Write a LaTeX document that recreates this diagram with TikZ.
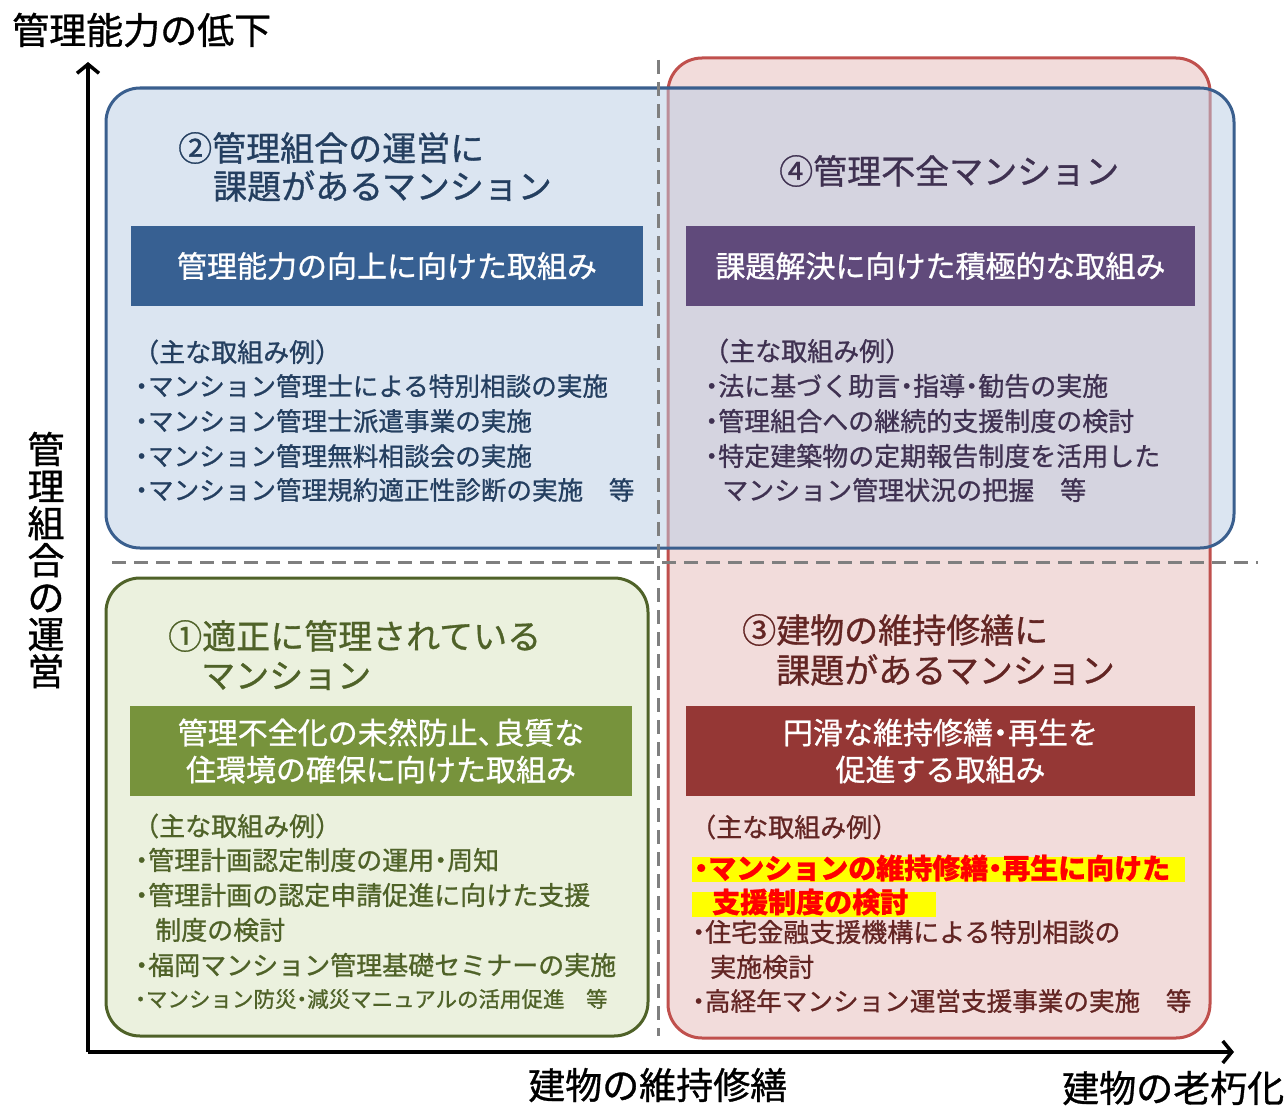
\documentclass[tikz,border=0pt]{standalone}
\usepackage{fontspec}
\setmainfont{Noto Sans CJK JP}[FakeBold=0.9]
\usetikzlibrary{arrows.meta}
\definecolor{blueB}{HTML}{3A5F8E}
\definecolor{blueF}{HTML}{B9CDE5}
\definecolor{blueBar}{HTML}{376092}
\definecolor{blueT}{HTML}{243F60}
\definecolor{redB}{HTML}{C0504D}
\definecolor{redF}{HTML}{F2DCDB}
\definecolor{redBar}{HTML}{953735}
\definecolor{redT}{HTML}{632523}
\definecolor{greenB}{HTML}{4F6228}
\definecolor{greenF}{HTML}{EBF1DE}
\definecolor{greenBar}{HTML}{77933C}
\definecolor{greenT}{HTML}{4F6228}
\definecolor{purpBar}{HTML}{604A7B}
\definecolor{purpT}{HTML}{3F3151}
\definecolor{dashG}{HTML}{7F7F7F}
\definecolor{hlY}{HTML}{FFFF00}
\definecolor{hlR}{HTML}{FF0000}
\newcommand\mdot{\makebox[0.5em][c]{・}}
\newcommand\mcomma{\makebox[0.55em][l]{、}}
\tikzset{
 quad/.style={line width=3pt, rounded corners=34pt},
 sep/.style={draw=dashG, line width=3pt, dash pattern=on 14pt off 8pt},
 axis/.style={line width=3.5pt, -{Straight Barb[length=9pt,width=22pt]}},
 bar/.style={text=white, inner sep=0pt, align=center, font=\fontsize{30}{37}\selectfont},
 ttl/.style={anchor=west, inner sep=0pt, font=\fontsize{34}{40}\selectfont},
 body/.style={anchor=west, inner sep=0pt, font=\fontsize{26}{30}\selectfont},
 hbody/.style={anchor=west, inner sep=0pt, text=hlR, font=\fontsize{28}{32}\selectfont\bfseries},
 axl/.style={inner sep=0pt, font=\fontsize{37}{37}\selectfont},
}
\begin{document}
\begin{tikzpicture}[x=1pt,y=-1pt]
\useasboundingbox (0,0) rectangle (1288,1108);
\fill[white] (0,0) rectangle (1288,1108);
% quadrant boxes
\draw[quad, draw=redB, fill=redF] (668,58) rectangle (1210,1038);
\draw[quad, draw=blueB, fill=blueF, fill opacity=0.5] (106,88) rectangle (1234,548);
\draw[quad, draw=greenB, fill=greenF] (106,578) rectangle (648,1036);
% separators
\draw[sep] (658,60) -- (658,1036);
\draw[sep] (112,562) -- (1258,562);
% bars
\node[bar, fill=blueBar, minimum width=512, minimum height=80] (bar2) at (387,266) {管理能力の向上に向けた取組み};
\node[bar, fill=purpBar, minimum width=509, minimum height=80] (bar4) at (940.5,266) {課題解決に向けた積極的な取組み};
\node[bar, fill=greenBar, minimum width=502, minimum height=90] (bar1) at (381,751) {管理不全化の未然防止\mcomma 良質な\\住環境の確保に向けた取組み};
\node[bar, fill=redBar, minimum width=509, minimum height=90] (bar3) at (940.5,751) {円滑な維持修繕\mdot 再生を\\促進する取組み};
% titles
\node[ttl, text=blueT] (t2a) at (178,148) {②管理組合の運営に};
\node[ttl, text=blueT] (t2b) at (213,186) {課題があるマンション};
\node[ttl, text=purpT] (t4) at (779,171) {④管理不全マンション};
\node[ttl, text=greenT] (t1a) at (168,636) {①適正に管理されている};
\node[ttl, text=greenT] (t1b) at (201,676) {マンション};
\node[ttl, text=redT] (t3a) at (742,630) {③建物の維持修繕に};
\node[ttl, text=redT] (t3b) at (776,670) {課題があるマンション};
% Q2 body
\node[body, text=blueT] (q2a) at (133,352) {（主な取組み例）};
\node[body, text=blueT, font=\fontsize{25.6}{30}\selectfont] (q2b) at (135,386) {\mdot マンション管理士による特別相談の実施};
\node[body, text=blueT, font=\fontsize{25.6}{30}\selectfont] (q2c) at (135,421) {\mdot マンション管理士派遣事業の実施};
\node[body, text=blueT, font=\fontsize{25.6}{30}\selectfont] (q2d) at (135,456) {\mdot マンション管理無料相談会の実施};
\node[body, text=blueT, font=\fontsize{25.6}{30}\selectfont] (q2e) at (135,490) {\mdot マンション管理規約適正性診断の実施　等};
% Q4 body
\node[body, text=purpT] (q4a) at (703,351) {（主な取組み例）};
\node[body, text=purpT] (q4b) at (705,386) {\mdot 法に基づく助言\mdot 指導\mdot 勧告の実施};
\node[body, text=purpT] (q4c) at (705,421) {\mdot 管理組合への継続的支援制度の検討};
\node[body, text=purpT] (q4d) at (705,456) {\mdot 特定建築物の定期報告制度を活用した};
\node[body, text=purpT] (q4e) at (722,490) {マンション管理状況の把握　等};
% Q1 body
\node[body, text=greenT] (q1a) at (133,826) {（主な取組み例）};
\node[body, text=greenT] (q1b) at (135,860) {\mdot 管理計画認定制度の運用\mdot 周知};
\node[body, text=greenT] (q1c) at (135,895) {\mdot 管理計画の認定申請促進に向けた支援};
\node[body, text=greenT] (q1d) at (155,930) {制度の検討};
\node[body, text=greenT] (q1e) at (135,965) {\mdot 福岡マンション管理基礎セミナーの実施};
\node[body, text=greenT, font=\fontsize{21.5}{26}\selectfont] (q1f) at (135,999) {\mdot マンション防災\mdot 減災マニュアルの活用促進　等};
% Q3 body
\fill[hlY] (692,857) rectangle (1185,882);
\fill[hlY] (692,892) rectangle (936,917);
\node[body, text=redT] (q3a) at (690,827) {（主な取組み例）};
\node[hbody] (q3b) at (694,868) {\mdot マンションの維持修繕\mdot 再生に向けた};
\node[hbody] (q3c) at (712,902) {支援制度の検討};
\node[body, text=redT] (q3d) at (692,932) {\mdot 住宅金融支援機構による特別相談の};
\node[body, text=redT] (q3e) at (710,967) {実施検討};
\node[body, text=redT, font=\fontsize{25.6}{30}\selectfont] (q3f) at (692,1001) {\mdot 高経年マンション運営支援事業の実施　等};
% axes
\coordinate (origin) at (88,1052);
\coordinate (ytop) at (88,62);
\coordinate (xend) at (1234,1052);
\draw[axis] (origin) -- (ytop);
\draw[axis] (origin) -- (xend);
% axis labels
\node[axl, anchor=west] (ylab) at (12,30) {管理能力の低下};
\node[axl, align=center] (yside) at (46,560) {管\\理\\組\\合\\の\\運\\営};
\node[axl, anchor=west] (xlab) at (528,1085) {建物の維持修繕};
\node[axl, anchor=west] (xendlab) at (1062,1088) {建物の老朽化};
\end{tikzpicture}
\end{document}
